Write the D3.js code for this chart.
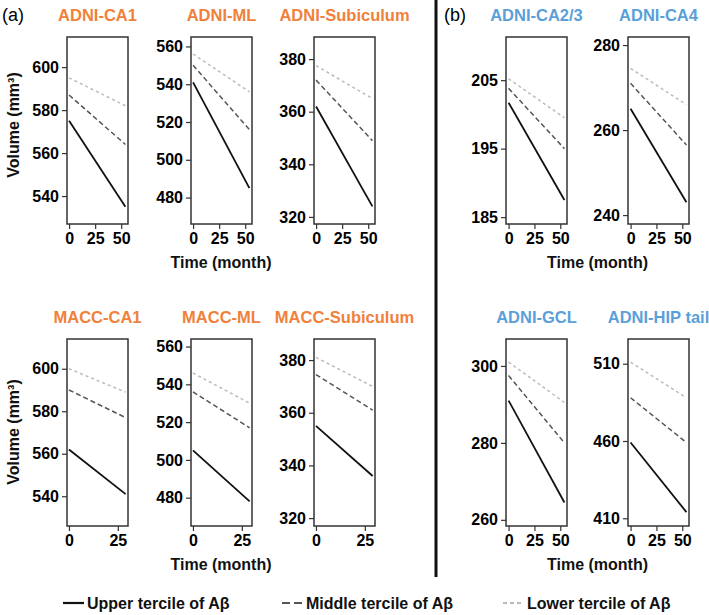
<!DOCTYPE html>
<html>
<head>
<meta charset="utf-8">
<script src="https://cdn.jsdelivr.net/npm/d3@7"></script>
<style>
  body { margin: 0; background: #fff; }
  svg { font-family: "Liberation Sans", Arial, sans-serif; }
  .tick text { font-size: 16px; font-weight: bold; fill: #000; }
</style>
</head>
<body>
<svg id="chart" width="709" height="615"></svg>
<script>
// panel order: top row left->right, then bottom row left->right
const titles = ["ADNI-CA1", "ADNI-ML", "ADNI-Subiculum", "ADNI-CA2/3", "ADNI-CA4",
                "MACC-CA1", "MACC-ML", "MACC-Subiculum", "ADNI-GCL", "ADNI-HIP tail"];
const group = ["a", "a", "a", "b", "b", "a", "a", "a", "b", "b"];
// start/end volume for each tercile
const upper  = [[575, 535], [541, 485], [362, 324], [201.7, 187.5], [265, 243],
                [562, 541], [505, 478], [355, 336], [291, 264.5], [459, 414]];
const middle = [[587, 564], [550, 516], [372, 349], [203.8, 195], [271, 256.5],
                [590, 577], [536, 517], [374.5, 361], [297.5, 280], [488, 459]];
const lower  = [[595, 582], [556, 536], [377.5, 365], [205.2, 199.5], [274.5, 266],
                [600, 589], [546, 530], [381, 370], [301, 290.5], [511, 488]];
const monthEnd = [54, 54, 54, 54, 54, 29, 29, 29, 54, 54];
const yDomains = [[527, 614], [466, 565], [317.3, 388.4], [184, 211.3], [237.9, 281.9],
                  [526, 614], [465, 564], [317, 388], [258.4, 307], [405, 526]];
const yTicks = [[540, 560, 580, 600], [480, 500, 520, 540, 560], [320, 340, 360, 380],
                [185, 195, 205], [240, 260, 280],
                [540, 560, 580, 600], [480, 500, 520, 540, 560], [320, 340, 360, 380],
                [260, 280, 300], [410, 460, 510]];
const xDomains = [[-2, 56.5], [-2, 56.5], [-2, 56.5], [-2.5, 56.5], [-2.5, 56.5],
                  [-1, 30.2], [-1, 30.2], [-1, 30.2], [-2.5, 56.5], [-2.5, 56.5]];
const xTicks = [[0, 25, 50], [0, 25, 50], [0, 25, 50], [0, 25, 50], [0, 25, 50],
                [0, 25], [0, 25], [0, 25], [0, 25, 50], [0, 25, 50]];
const legendLabels = ["Upper tercile of A\u03b2", "Middle tercile of A\u03b2", "Lower tercile of A\u03b2"];

const seriesStyle = [
  {data: upper,  color: "#111", dash: null,  width: 1.8},
  {data: middle, color: "#555", dash: "5,3", width: 1.5},
  {data: lower,  color: "#bbb", dash: "3,3", width: 1.5}
];

const colLeft = [67, 191, 314, 506, 628];
const rowTop = [37, 339];
const pw = 61, ph = 187;
const groupColor = {a: "#f0813a", b: "#5b9fd9"};

const svg = d3.select("#chart");

titles.forEach(function (title, i) {
  let col = i % 5, row = Math.floor(i / 5);
  let g = svg.append("g")
    .attr("transform", "translate(" + colLeft[col] + "," + rowTop[row] + ")");

  let x = d3.scaleLinear().domain(xDomains[i]).range([0, pw]);
  let y = d3.scaleLinear().domain(yDomains[i]).range([ph, 0]);

  g.append("text")
    .attr("x", pw / 2)
    .attr("y", -16)
    .attr("text-anchor", "middle")
    .attr("font-size", "16.5px")
    .attr("font-weight", "bold")
    .attr("fill", groupColor[group[i]])
    .text(title);

  let ya = g.append("g")
    .call(d3.axisLeft(y).tickValues(yTicks[i]).tickSize(5).tickPadding(3));
  let xa = g.append("g")
    .attr("transform", "translate(0," + ph + ")")
    .call(d3.axisBottom(x).tickValues(xTicks[i]).tickSize(5).tickPadding(4));
  [ya, xa].forEach(a => {
    a.attr("font-size", null).attr("font-family", null);
    a.select(".domain").remove();
    a.selectAll("line").attr("stroke", "#333").attr("stroke-width", 1.2);
  });

  seriesStyle.forEach(function (s) {
    let pts = [[0, s.data[i][0]], [monthEnd[i], s.data[i][1]]];
    g.append("path")
      .datum(pts)
      .attr("fill", "none")
      .attr("stroke", s.color)
      .attr("stroke-width", s.width)
      .attr("stroke-dasharray", s.dash)
      .attr("d", d3.line().x(d => x(d[0])).y(d => y(d[1])));
  });

  g.append("rect")
    .attr("width", pw)
    .attr("height", ph)
    .attr("fill", "none")
    .attr("stroke", "#333")
    .attr("stroke-width", 1.5);
});

// axis titles
[[rowTop[0], 88], [rowTop[1], 93]].forEach(function (t) {
  svg.append("text")
    .attr("transform", "translate(19," + (t[0] + t[1]) + ") rotate(-90)")
    .attr("text-anchor", "middle")
    .attr("font-size", "16px")
    .attr("font-weight", "bold")
    .attr("fill", "#111")
    .text("Volume (mm\u00b3)");
});
const groupCenter = [(colLeft[0] + colLeft[2] + pw) / 2, (colLeft[3] + colLeft[4] + pw) / 2];
rowTop.forEach(function (t) {
  groupCenter.forEach(function (cx) {
    svg.append("text")
      .attr("x", cx)
      .attr("y", t + ph + 44)
      .attr("text-anchor", "middle")
      .attr("font-size", "16px")
      .attr("font-weight", "bold")
      .attr("fill", "#111")
      .text("Time (month)");
  });
});

// panel letters and divider
svg.append("text").attr("x", 2).attr("y", 21).attr("font-size", "18px").text("(a)");
svg.append("text").attr("x", 444).attr("y", 21).attr("font-size", "18px").text("(b)");
svg.append("line")
  .attr("x1", 436).attr("x2", 436)
  .attr("y1", 0).attr("y2", 577)
  .attr("stroke", "#111").attr("stroke-width", 3);

// legend
const legendX = [63, 282, 503];
legendLabels.forEach(function (lab, i) {
  let s = seriesStyle[i];
  let lg = svg.append("g").attr("transform", "translate(" + legendX[i] + ",603)");
  lg.append("line")
    .attr("x1", 0).attr("x2", 21)
    .attr("stroke", s.color)
    .attr("stroke-width", i === 0 ? 2.2 : 2)
    .attr("stroke-dasharray", i === 0 ? null : (i === 1 ? "8,4" : "4,3"));
  lg.append("text")
    .attr("x", 24)
    .attr("dy", "0.36em")
    .attr("font-size", "16px")
    .attr("font-weight", "bold")
    .attr("fill", "#111")
    .text(lab);
});
</script>
</body>
</html>
